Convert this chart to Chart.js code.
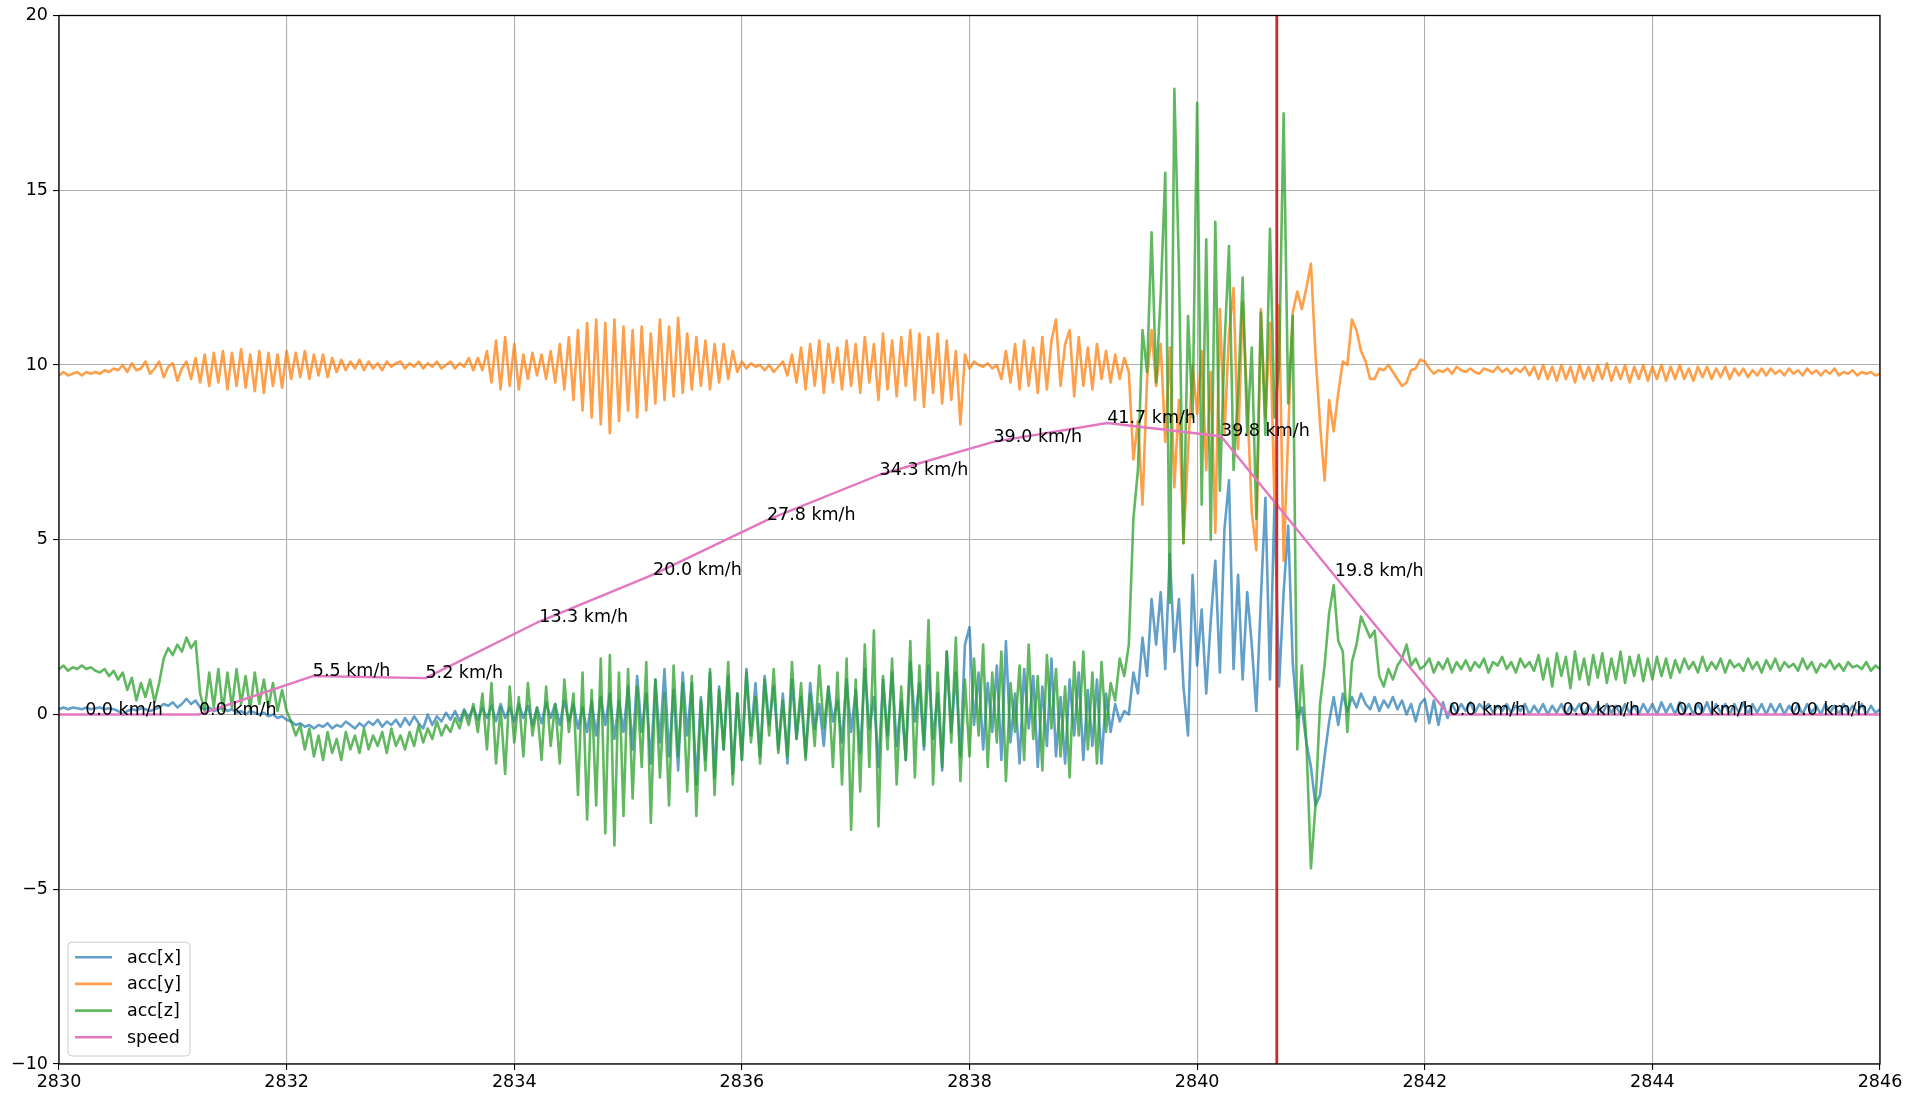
<!DOCTYPE html>
<html>
<head>
<meta charset="utf-8">
<title>acc / speed</title>
<script src="https://cdn.jsdelivr.net/npm/chart.js@4.4.1/dist/chart.umd.min.js"></script>
<style>
  html, body { margin: 0; padding: 0; background: #fff; }
  #wrap { width: 1920px; height: 1094px; }
</style>
</head>
<body>
<div id="wrap"><canvas id="accChart" width="1920" height="1094"></canvas></div>
<script>
// ── data ─────────────────────────────────────────────────────
const t0 = 2830;     // first sample time
const dt = 0.04;     // sample spacing, s

// one line per second, 25 samples each
const accX = [
  0.15, 0.2, 0.15, 0.2, 0.18, 0.15, 0.2, 0.15, 0.18, 0.2, 0.15, 0.18, 0.15, 0.1, 0.0, 0.1, 0.15, 0.12, 0.18, 0.15, 0.1, 0.15, 0.2, 0.3, 0.25,
  0.35, 0.2, 0.3, 0.45, 0.3, 0.4, 0.2, 0.15, 0.2, 0.1, 0.15, 0.2, 0.1, 0.15, 0.05, 0.1, 0.0, 0.1, 0.05, 0.0, 0.05, -0.05, 0.0, -0.1, -0.05,
  -0.15, -0.2, -0.3, -0.25, -0.35, -0.3, -0.4, -0.3, -0.35, -0.25, -0.4, -0.3, -0.35, -0.2, -0.3, -0.4, -0.25, -0.35, -0.2, -0.3, -0.15, -0.35, -0.2, -0.3, -0.15,
  -0.35, -0.1, -0.3, -0.05, -0.25, -0.4, 0.0, -0.3, -0.05, -0.2, 0.05, -0.15, 0.1, -0.2, 0.15, -0.1, 0.2, -0.15, 0.2, -0.1, 0.25, -0.2, 0.3, -0.1, 0.2,
  -0.2, 0.3, -0.1, 0.25, -0.3, 0.2, -0.25, 0.35, -0.1, 0.3, -0.3, 0.4, -0.2, 0.3, -0.4, 0.2, -0.5, 0.4, -0.6, 0.5, -0.3, 0.6, -0.7, 0.4, -0.5,
  0.8, -1.0, 1.1, -0.5, 0.6, -1.4, 1.0, -0.8, 1.3, -1.2, 0.7, -1.6, 1.2, -0.6, 0.9, -2.0, 0.5, -1.3, 1.2, -1.8, 0.8, -1.0, 1.1, -1.7, 0.6,
  -1.3, 1.3, -0.6, 0.9, -1.2, 1.1, -0.3, 0.8, -1.0, 0.6, -1.4, 1.0, -0.7, 0.5, -1.2, 0.9, -0.4, 0.3, -0.9, 0.8, -0.2, 0.4, -0.8, 1.0, -0.5,
  0.7, -1.1, 1.3, -0.4, 0.5, -1.5, 1.0, -0.6, 1.2, -0.9, 0.4, -1.3, 1.5, -0.2, 0.9, -1.0, 1.4, -0.7, 0.6, -1.6, 1.8, -0.5, 1.2, -1.2, 2.0,
  2.5, -0.3, 1.2, -1.0, 0.9, -0.5, 1.4, -1.3, 2.1, -0.8, 0.6, -1.4, 1.3, -0.4, 1.1, -1.5, 0.8, -0.9, 1.6, -1.2, 0.5, -1.4, 1.0, -0.6, 1.2,
  -1.3, 0.7, -0.9, 1.0, -1.4, 0.6, -0.5, 0.3, -0.2, 0.1, 0.0, 1.2, 0.6, 2.2, 1.1, 3.3, 2.0, 3.5, 1.3, 4.6, 1.8, 3.3, 0.8, -0.6, 4.0,
  1.4, 3.0, 0.6, 2.7, 4.4, 1.2, 5.3, 6.7, 1.3, 4.0, 1.0, 3.5, 2.0, 0.1, 3.3, 6.2, 1.0, 6.1, 0.8, 3.5, 5.4, 1.5, -0.1, 0.2, -0.8,
  -1.5, -2.6, -2.3, -1.2, -0.2, 0.5, -0.3, 0.6, 0.1, 0.5, 0.2, 0.6, 0.3, 0.15, 0.5, 0.1, 0.4, 0.2, 0.5, 0.15, 0.4, 0.0, 0.3, -0.2, 0.3,
  0.45, -0.25, 0.4, -0.3, 0.35, -0.1, 0.3, 0.05, 0.3, 0.1, 0.35, 0.05, 0.3, 0.15, 0.3, 0.05, 0.25, 0.1, 0.3, 0.05, 0.25, 0.1, 0.3, 0.0, 0.25,
  0.05, 0.3, 0.0, 0.25, 0.05, 0.3, 0.0, 0.25, 0.1, 0.3, 0.0, 0.25, 0.05, 0.3, 0.0, 0.3, 0.05, 0.25, 0.0, 0.3, 0.05, 0.25, 0.0, 0.3, 0.05,
  0.3, 0.0, 0.35, 0.05, 0.3, 0.0, 0.35, 0.05, 0.3, 0.0, 0.3, 0.05, 0.35, 0.0, 0.3, 0.05, 0.3, 0.0, 0.3, 0.05, 0.35, 0.0, 0.3, 0.05, 0.3,
  0.0, 0.3, 0.05, 0.3, 0.0, 0.25, 0.05, 0.3, 0.0, 0.3, 0.05, 0.25, 0.0, 0.3, 0.05, 0.25, 0.0, 0.3, 0.05, 0.25, 0.05, 0.3, 0.0, 0.25, 0.05,
  0.15
];

const accY = [
  9.7, 9.8, 9.7, 9.75, 9.8, 9.7, 9.8, 9.75, 9.8, 9.75, 9.85, 9.8, 9.9, 9.85, 10.0, 9.8, 10.05, 9.85, 9.9, 10.1, 9.75, 9.9, 10.1, 9.65, 9.95,
  10.05, 9.55, 9.9, 10.1, 9.6, 10.2, 9.5, 10.3, 9.4, 10.35, 9.5, 10.4, 9.3, 10.35, 9.4, 10.45, 9.35, 10.3, 9.25, 10.4, 9.2, 10.35, 9.4, 10.3, 9.35,
  10.4, 9.6, 10.35, 9.65, 10.4, 9.6, 10.3, 9.7, 10.3, 9.65, 10.2, 9.8, 10.15, 9.85, 10.1, 9.9, 10.15, 9.85, 10.1, 9.9, 10.05, 9.85, 10.1, 9.95, 10.05,
  10.1, 9.9, 10.05, 9.95, 10.1, 9.9, 10.05, 9.95, 10.1, 9.9, 10.0, 10.1, 9.9, 10.05, 9.95, 10.2, 9.85, 10.2, 9.85, 10.4, 9.5, 10.7, 9.3, 10.8, 9.4,
  10.6, 9.3, 10.3, 9.6, 10.35, 9.7, 10.3, 9.6, 10.4, 9.5, 10.6, 9.3, 10.8, 9.0, 11.0, 8.7, 11.2, 8.5, 11.3, 8.3, 11.2, 8.05, 11.3, 8.4, 11.1,
  8.7, 11.0, 8.5, 11.1, 8.7, 10.9, 8.9, 11.3, 9.0, 11.1, 9.1, 11.35, 9.2, 10.9, 9.3, 10.8, 9.4, 10.7, 9.3, 10.6, 9.5, 10.6, 9.6, 10.4, 9.8,
  10.1, 9.9, 10.05, 9.95, 10.0, 9.85, 10.0, 9.8, 9.95, 10.1, 9.7, 10.3, 9.5, 10.5, 9.3, 10.6, 9.4, 10.7, 9.2, 10.6, 9.5, 10.5, 9.3, 10.7, 9.4,
  10.6, 9.2, 10.8, 9.5, 10.6, 9.0, 10.9, 9.3, 10.7, 9.1, 10.8, 9.4, 11.0, 9.0, 10.9, 8.8, 10.8, 9.2, 10.9, 8.9, 10.7, 9.0, 10.4, 8.3, 10.3,
  9.9, 10.1, 10.0, 9.95, 10.05, 9.9, 10.0, 9.6, 10.4, 9.5, 10.6, 9.3, 10.7, 9.4, 10.5, 9.2, 10.8, 9.3, 10.7, 11.3, 9.4, 10.6, 11.0, 9.1, 10.8,
  9.4, 10.5, 9.3, 10.6, 9.6, 10.4, 9.5, 10.3, 9.6, 10.2, 9.8, 7.3, 8.4, 6.0, 9.6, 11.0, 9.4, 10.6, 7.8, 10.5, 6.5, 9.0, 4.9, 7.5, 10.0,
  8.6, 10.4, 7.0, 9.8, 5.2, 11.6, 8.0, 10.9, 12.2, 7.6, 11.8, 9.0, 5.8, 4.7, 11.6, 8.5, 11.2, 6.0, 11.7, 4.4, 8.0, 11.5, 12.1, 11.6, 12.2,
  12.9, 10.3, 8.3, 6.7, 9.0, 8.1, 9.2, 10.1, 10.0, 11.3, 11.0, 10.4, 10.1, 9.6, 9.6, 9.9, 9.85, 10.0, 9.8, 9.6, 9.4, 9.5, 9.85, 9.9, 10.15,
  10.1, 9.9, 9.75, 9.85, 9.8, 9.9, 9.75, 9.95, 9.85, 9.8, 9.9, 9.8, 9.75, 9.9, 9.85, 9.8, 9.95, 9.8, 9.9, 9.75, 9.9, 9.8, 9.95, 9.7, 9.95,
  9.6, 10.0, 9.6, 9.95, 9.55, 10.0, 9.6, 9.95, 9.5, 10.0, 9.6, 9.95, 9.55, 10.0, 9.6, 10.05, 9.55, 9.95, 9.6, 10.0, 9.5, 9.95, 9.6, 10.0, 9.55,
  9.95, 9.6, 10.0, 9.55, 9.95, 9.6, 10.0, 9.6, 9.9, 9.55, 9.95, 9.65, 9.95, 9.6, 9.9, 9.65, 9.95, 9.6, 9.9, 9.7, 9.9, 9.65, 9.85, 9.7, 9.9,
  9.7, 9.9, 9.75, 9.85, 9.7, 9.9, 9.75, 9.85, 9.7, 9.9, 9.75, 9.85, 9.7, 9.85, 9.75, 9.9, 9.7, 9.8, 9.75, 9.85, 9.7, 9.8, 9.75, 9.8, 9.7,
  9.75
];

const accZ = [
  1.3, 1.4, 1.25, 1.35, 1.3, 1.4, 1.3, 1.35, 1.25, 1.2, 1.3, 1.1, 1.25, 1.0, 1.2, 0.7, 1.05, 0.4, 0.9, 0.5, 1.0, 0.35, 0.9, 1.6, 1.9,
  1.7, 2.0, 1.8, 2.2, 1.9, 2.1, 0.6, 0.1, 1.2, 0.2, 1.3, 0.1, 1.2, 0.2, 1.3, 0.3, 1.1, 0.15, 1.2, 0.3, 1.0, 0.2, 0.9, 0.1, 0.7,
  0.1, -0.2, -0.6, -0.3, -1.0, -0.4, -1.2, -0.6, -1.3, -0.5, -1.1, -0.7, -1.3, -0.5, -1.0, -0.6, -1.1, -0.4, -1.0, -0.6, -0.9, -0.5, -1.1, -0.4, -0.9,
  -0.6, -1.0, -0.5, -0.9, -0.3, -0.8, -0.4, -0.7, -0.2, -0.6, -0.3, -0.5, -0.1, -0.4, 0.1, -0.3, 0.3, -0.5, 0.6, -1.0, 0.9, -1.4, 0.2, -1.7, 0.8,
  -0.8, 0.5, -1.2, 0.9, -0.6, 0.2, -1.3, 0.8, -0.9, 0.3, -1.4, 1.0, -0.5, 0.6, -2.3, 1.2, -3.0, 0.7, -2.6, 1.6, -3.4, 1.7, -3.75, 1.2, -2.9,
  1.3, -2.4, 0.8, -1.5, 1.5, -3.1, 1.0, -1.8, 0.6, -2.6, 1.4, -1.2, 0.9, -2.2, 1.1, -2.9, 0.4, -1.6, 1.3, -2.3, 0.7, -1.0, 1.5, -2.0, 0.6,
  -1.3, 1.2, -0.8, 0.5, -1.4, 1.0, -0.6, 1.3, -1.1, 0.4, -1.2, 1.5, -0.7, 0.9, -1.3, 0.6, -0.9, 1.4, -0.4, 0.8, -1.5, 1.2, -2.0, 1.6, -3.3,
  1.0, -2.2, 2.0, -1.5, 2.4, -3.2, 1.1, -1.0, 1.6, -2.0, 0.8, -1.3, 2.1, -1.8, 1.4, -0.9, 2.7, -2.0, 1.2, -1.5, 1.8, -0.8, 2.2, -1.9, 1.0,
  -1.2, 1.6, -0.6, 2.0, -1.5, 1.2, -0.8, 1.8, -1.9, 0.9, -0.5, 1.4, -1.3, 2.0, -0.7, 1.1, -1.6, 1.7, -0.4, 1.3, -1.2, 0.8, -1.8, 1.5, -0.6,
  1.8, -1.0, 1.2, -1.4, 1.5, -0.5, 0.9, 0.4, 1.6, 1.1, 2.0, 5.6, 7.0, 11.0, 9.8, 13.8, 9.5, 12.0, 15.5, 3.2, 17.9, 12.8, 4.9, 11.4, 8.5,
  17.5, 6.0, 13.6, 5.0, 14.1, 6.4, 10.5, 13.4, 7.0, 9.2, 12.5, 8.0, 10.5, 5.6, 11.5, 8.0, 13.9, 8.5, 10.0, 17.2, 8.9, 11.4, -1.0, 1.4, -0.8,
  -4.4, -2.6, 0.3, 1.4, 2.9, 3.7, 2.1, 1.8, -0.5, 1.5, 2.0, 2.8, 2.5, 2.2, 2.4, 1.1, 0.8, 1.3, 1.0, 1.4, 1.6, 2.0, 1.4, 1.6, 1.3,
  1.4, 1.6, 1.2, 1.5, 1.3, 1.6, 1.2, 1.5, 1.3, 1.55, 1.25, 1.5, 1.35, 1.6, 1.2, 1.5, 1.4, 1.65, 1.3, 1.5, 1.2, 1.6, 1.35, 1.5, 1.25,
  1.7, 1.0, 1.6, 0.8, 1.75, 1.1, 1.65, 0.75, 1.8, 1.0, 1.6, 0.85, 1.7, 1.05, 1.75, 0.9, 1.6, 1.0, 1.8, 0.9, 1.65, 1.1, 1.7, 0.95, 1.6,
  1.0, 1.65, 1.1, 1.6, 1.05, 1.55, 1.2, 1.6, 1.3, 1.5, 1.2, 1.65, 1.25, 1.5, 1.3, 1.6, 1.2, 1.55, 1.35, 1.45, 1.25, 1.6, 1.3, 1.5, 1.2,
  1.55, 1.3, 1.6, 1.25, 1.5, 1.35, 1.45, 1.25, 1.6, 1.3, 1.5, 1.2, 1.45, 1.35, 1.55, 1.3, 1.45, 1.25, 1.5, 1.35, 1.4, 1.3, 1.5, 1.25, 1.4,
  1.3
];

// speed samples (~1 s apart), km/h, plotted as km/h / 5
const speedTimes = [2829.22, 2830.23, 2831.23, 2832.23, 2833.22, 2834.22, 2835.22, 2836.22, 2837.21,
                    2838.21, 2839.21, 2840.21, 2841.21, 2842.21, 2843.21, 2844.21, 2845.21, 2846.21];
const speedKmh   = [0, 0.0, 0.0, 5.5, 5.2, 13.3, 20.0, 27.8, 34.3, 39.0, 41.7, 39.8, 19.8, 0.0, 0.0, 0.0, 0.0, 0];
const speedScale = 5;

const markerTime = 2840.70;   // red vertical line

const xTicks = [2830, 2832, 2834, 2836, 2838, 2840, 2842, 2844, 2846];
const yTicks = [-10, -5, 0, 5, 10, 15, 20];

// ── helpers ──────────────────────────────────────────────────
const FONT = 'DejaVu Sans';
const FONT_SIZE = 17.5;

function toPoints(arr) {
    return arr.map((v, i) => ({ x: +(t0 + i * dt).toFixed(2), y: v }));
}

function minusSign(v) {
    return v < 0 ? '\u2212' + Math.abs(v) : String(v);
}

// speed annotations, frame and legend are drawn here
const overlayPlugin = {
    id: 'overlay',
    afterDatasetsDraw(chart) {
        const { ctx, chartArea, scales } = chart;
        ctx.save();
        ctx.beginPath();
        ctx.rect(chartArea.left, chartArea.top, chartArea.right - chartArea.left, chartArea.bottom - chartArea.top);
        ctx.clip();
        ctx.fillStyle = '#000';
        ctx.font = FONT_SIZE + 'px "' + FONT + '"';
        ctx.textAlign = 'left';
        ctx.textBaseline = 'alphabetic';
        speedTimes.forEach((t, i) => {
            if (t < scales.x.min || t > scales.x.max) return;
            const px = scales.x.getPixelForValue(t);
            const py = scales.y.getPixelForValue(speedKmh[i] / speedScale);
            ctx.fillText(speedKmh[i].toFixed(1) + ' km/h', px, py);
        });
        ctx.restore();
    },
    afterDraw(chart) {
        const { ctx, chartArea } = chart;
        ctx.save();
        // axes frame
        ctx.strokeStyle = '#000';
        ctx.lineWidth = 1.3;
        ctx.strokeRect(chartArea.left, chartArea.top, chartArea.right - chartArea.left, chartArea.bottom - chartArea.top);

        // legend, lower left
        const items = chart.data.datasets.filter(d => !d.hideInLegend);
        const rowH = 26.7;
        const boxX = chartArea.left + 9;
        const boxW = 122;
        const boxH = rowH * items.length + 7;
        const boxY = chartArea.bottom - 8 - boxH;
        ctx.beginPath();
        ctx.roundRect(boxX, boxY, boxW, boxH, 4);
        ctx.fillStyle = 'rgba(255,255,255,0.8)';
        ctx.fill();
        ctx.strokeStyle = '#cccccc';
        ctx.lineWidth = 1;
        ctx.stroke();

        ctx.font = FONT_SIZE + 'px "' + FONT + '"';
        ctx.textAlign = 'left';
        ctx.textBaseline = 'middle';
        items.forEach((d, i) => {
            const y = boxY + 15 + i * rowH;
            ctx.strokeStyle = d.borderColor;
            ctx.lineWidth = d.borderWidth;
            ctx.beginPath();
            ctx.moveTo(boxX + 7, y);
            ctx.lineTo(boxX + 44, y);
            ctx.stroke();
            ctx.fillStyle = '#000';
            ctx.fillText(d.label, boxX + 59, y + 1);
        });
        ctx.restore();
    }
};

// ── chart ────────────────────────────────────────────────────
Chart.defaults.font.family = FONT;
Chart.defaults.font.size = FONT_SIZE;
Chart.defaults.color = '#000';

const lineBase = { pointRadius: 0, tension: 0, fill: false, borderWidth: 2.6, borderJoinStyle: 'round', borderCapStyle: 'round' };

new Chart(document.getElementById('accChart'), {
    type: 'line',
    data: {
        datasets: [
            { ...lineBase, label: 'acc[x]', data: toPoints(accX), borderColor: 'rgba(31,119,180,0.7)', order: 5 },
            { ...lineBase, label: 'acc[y]', data: toPoints(accY), borderColor: 'rgba(255,127,14,0.75)', order: 4 },
            { ...lineBase, label: 'acc[z]', data: toPoints(accZ), borderColor: 'rgba(44,160,44,0.75)', order: 3 },
            { ...lineBase, label: 'speed', borderWidth: 2.4,
              data: speedTimes.map((t, i) => ({ x: t, y: speedKmh[i] / speedScale })),
              borderColor: '#e377c2', order: 2 },
            { ...lineBase, label: 'marker', hideInLegend: true, borderWidth: 2.8,
              data: [{ x: markerTime, y: yTicks[0] }, { x: markerTime, y: yTicks[yTicks.length - 1] }],
              borderColor: '#d62728', order: 1 }
        ]
    },
    options: {
        responsive: false,
        animation: false,
        events: [],
        layout: { padding: { left: 0, top: 12, right: 40, bottom: 0 } },
        plugins: {
            legend: { display: false },
            tooltip: { enabled: false }
        },
        scales: {
            x: {
                type: 'linear',
                min: xTicks[0],
                max: xTicks[xTicks.length - 1],
                afterBuildTicks: (s) => { s.ticks = xTicks.map(v => ({ value: v })); },
                afterFit: (s) => { s.height = 30; },
                ticks: { padding: 2, maxRotation: 0, autoSkip: false, callback: (v) => String(v) },
                grid: { color: '#b0b0b0', lineWidth: 1.1, tickColor: '#000', tickLength: 6 },
                border: { display: false }
            },
            y: {
                type: 'linear',
                min: yTicks[0],
                max: yTicks[yTicks.length - 1],
                afterBuildTicks: (s) => { s.ticks = yTicks.map(v => ({ value: v })); },
                afterFit: (s) => { s.width = 59; },
                ticks: { padding: 5, autoSkip: false, callback: (v) => minusSign(v) },
                grid: { color: '#b0b0b0', lineWidth: 1.1, tickColor: '#000', tickLength: 6 },
                border: { display: false }
            }
        }
    },
    plugins: [overlayPlugin]
});
</script>
</body>
</html>
